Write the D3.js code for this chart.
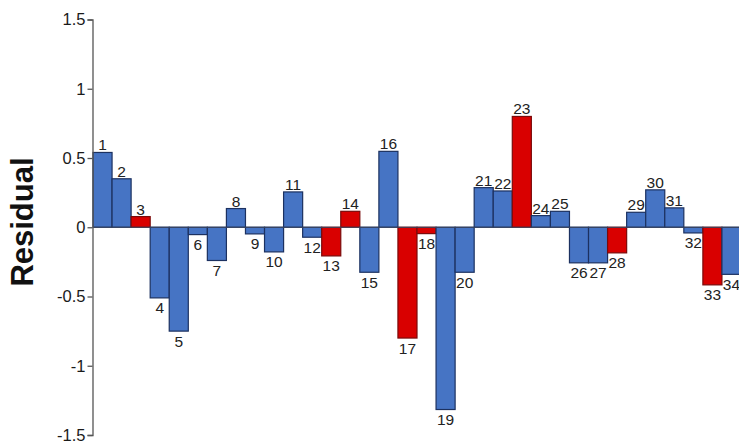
<!DOCTYPE html>
<html>
<head>
<meta charset="utf-8">
<script src="https://cdn.jsdelivr.net/npm/d3@7"></script>
<style>
  html, body { margin: 0; padding: 0; background: #ffffff; }
  svg { display: block; }
  text { font-family: "Liberation Sans", Arial, sans-serif; }
</style>
</head>
<body>
<svg id="chart" width="739" height="444"></svg>
<script>
const categories = ["1","2","3","4","5","6","7","8","9","10","11","12","13","14","15","16","17","18","19","20","21","22","23","24","25","26","27","28","29","30","31","32","33","34"];
const residuals = [0.54, 0.35, 0.077, -0.51, -0.75, -0.053, -0.24, 0.135, -0.048, -0.178, 0.255, -0.072, -0.207, 0.115, -0.325, 0.548, -0.80, -0.046, -1.316, -0.325, 0.286, 0.262, 0.80, 0.084, 0.115, -0.257, -0.257, -0.185, 0.108, 0.27, 0.14, -0.041, -0.416, -0.34];
const highlighted = ["3","13","14","17","18","23","28","33"];
const yTicks = [-1.5, -1, -0.5, 0, 0.5, 1, 1.5];
const yTitle = "Residual";

const svg = d3.select("#chart");
const x = d3.scaleBand().domain(categories).range([93, 741]).padding(0);
const y = d3.scaleLinear().domain([-1.5, 1.5]).range([435, 19.5]);

const data = categories.map((c, i) => ({ c, v: residuals[i], red: highlighted.includes(c) }));

// bars
svg.append("g").selectAll("rect").data(data).join("rect")
  .attr("x", d => x(d.c))
  .attr("width", x.bandwidth())
  .attr("y", d => y(Math.max(0, d.v)))
  .attr("height", d => Math.abs(y(d.v) - y(0)))
  .attr("fill", d => d.red ? "#d90000" : "#4674c4")
  .attr("stroke", d => d.red ? "#7a0a0a" : "#1c3160")
  .attr("stroke-width", 1.2);

// zero line
svg.append("line")
  .attr("x1", 93).attr("x2", 739)
  .attr("y1", y(0)).attr("y2", y(0))
  .attr("stroke", "#3a4660").attr("stroke-width", 1);

// bar labels
svg.append("g").selectAll("text").data(data).join("text")
  .attr("x", d => x(d.c) + x.bandwidth() / 2)
  .attr("y", d => d.v >= 0 ? y(d.v) - 2 : y(d.v) + 15.5)
  .attr("text-anchor", "middle")
  .attr("font-size", 15.5)
  .attr("fill", "#222")
  .text(d => d.c);

// y axis
const axis = svg.append("g").attr("transform", "translate(92.5,0)")
  .call(d3.axisLeft(y).tickValues(yTicks).tickSize(5).tickFormat(d => String(d)));
axis.select(".domain").attr("stroke", "#555").attr("stroke-width", 1.3);
axis.selectAll(".tick line").attr("stroke", "#555").attr("stroke-width", 1.3);
axis.selectAll(".tick text")
  .attr("font-family", "Liberation Sans, Arial, sans-serif")
  .attr("font-size", 16.5)
  .attr("fill", "#1a1a1a")
  .attr("x", -7);

// y title
svg.append("text")
  .attr("transform", "translate(33,222) rotate(-90)")
  .attr("text-anchor", "middle")
  .attr("font-size", 31)
  .attr("font-weight", "bold")
  .attr("fill", "#111")
  .text(yTitle);
</script>
</body>
</html>
